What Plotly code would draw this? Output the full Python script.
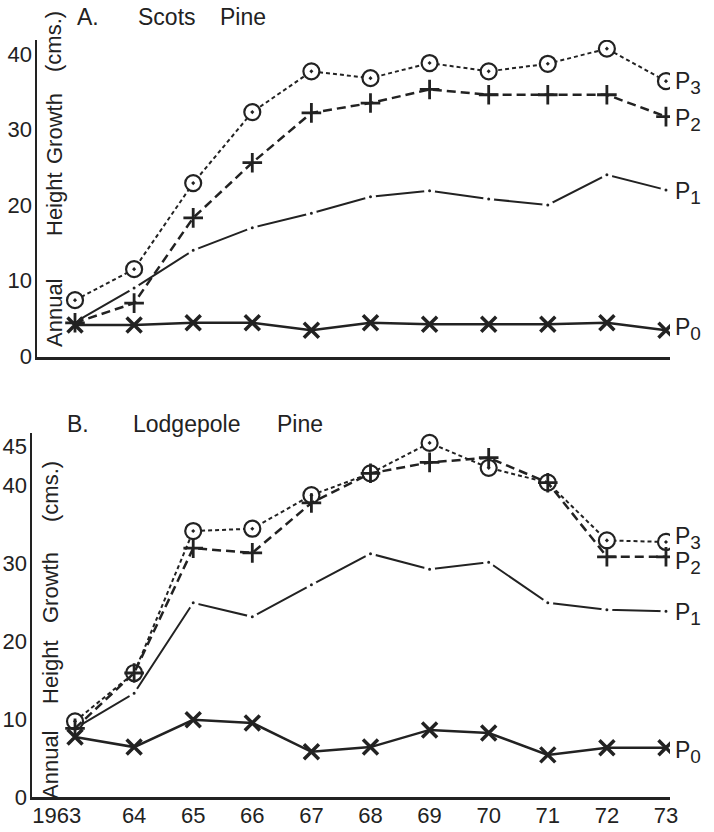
import plotly.graph_objects as go

# ---------------- data ----------------
years = [1963, 1964, 1965, 1966, 1967, 1968, 1969, 1970, 1971, 1972, 1973]
year_labels = ["1963", "64", "65", "66", "67", "68", "69", "70", "71", "72", "73"]

# A. Scots Pine
a_p0 = [4.1, 4.1, 4.4, 4.4, 3.4, 4.4, 4.2, 4.2, 4.2, 4.4, 3.4]
a_p1 = [4.5, 9.0, 14.0, 17.0, 18.9, 21.1, 21.9, 20.8, 20.0, 24.0, 22.0]
a_p2 = [4.4, 7.0, 18.3, 25.6, 32.2, 33.5, 35.3, 34.6, 34.6, 34.6, 31.7]
a_p3 = [7.4, 11.5, 22.9, 32.3, 37.7, 36.8, 38.8, 37.7, 38.7, 40.7, 36.4]

# B. Lodgepole Pine
b_p0 = [7.7, 6.4, 9.9, 9.5, 5.8, 6.4, 8.6, 8.2, 5.4, 6.3, 6.3]
b_p1 = [8.8, 13.3, 24.9, 23.1, 27.2, 31.2, 29.2, 30.1, 24.9, 24.0, 23.8]
b_p2 = [8.8, 15.9, 31.9, 31.3, 37.7, 41.5, 42.9, 43.5, 40.3, 30.8, 30.8]
b_p3 = [9.7, 15.9, 34.1, 34.4, 38.7, 41.5, 45.4, 42.2, 40.3, 32.9, 32.7]

a_yticks = [0, 10, 20, 30, 40]
b_yticks = [0, 10, 20, 30, 40, 45]

INK = "#222222"
FONT = "Liberation Sans, Arial, sans-serif"
W, H = 714, 832

fig = go.Figure()


def add_panel(xa, ya, p0, p1, p2, p3):
    # P1: solid line with small dots and gaps around them
    fig.add_trace(go.Scatter(
        x=years, y=p1, xaxis=xa, yaxis=ya, mode="lines+markers",
        line=dict(color=INK, width=2),
        marker=dict(symbol="circle", size=7, color=INK,
                    line=dict(color="white", width=4)),
        showlegend=False, hoverinfo="skip"))
    # P3: dotted with circle-dot markers
    fig.add_trace(go.Scatter(
        x=years, y=p3, xaxis=xa, yaxis=ya, mode="lines+markers",
        line=dict(color=INK, width=2, dash="4px,3px"),
        marker=dict(symbol="circle-dot", size=16, color="white",
                    line=dict(color=INK, width=2.2)),
        showlegend=False, hoverinfo="skip"))
    # P2: dashed with plus markers
    fig.add_trace(go.Scatter(
        x=years, y=p2, xaxis=xa, yaxis=ya, mode="lines+markers",
        line=dict(color=INK, width=2.5, dash="9px,5px"),
        marker=dict(symbol="cross-thin-open", size=14, color=INK,
                    line=dict(color=INK, width=2.8)),
        showlegend=False, hoverinfo="skip"))
    # P0: solid with x markers
    fig.add_trace(go.Scatter(
        x=years, y=p0, xaxis=xa, yaxis=ya, mode="lines+markers",
        line=dict(color=INK, width=2.5),
        marker=dict(symbol="x-thin-open", size=15, color=INK,
                    line=dict(color=INK, width=3.5)),
        showlegend=False, hoverinfo="skip"))


add_panel("x", "y", a_p0, a_p1, a_p2, a_p3)
add_panel("x2", "y2", b_p0, b_p1, b_p2, b_p3)

axis_common = dict(showgrid=False, zeroline=False, showline=True,
                   linecolor=INK, linewidth=2.5, ticks="",
                   automargin=False, fixedrange=True,
                   tickfont=dict(family=FONT, size=22, color=INK))

fig.update_layout(
    width=W, height=H, template="none",
    paper_bgcolor="white", plot_bgcolor="white",
    margin=dict(l=0, r=0, t=0, b=0, autoexpand=False),
    showlegend=False,
    xaxis=dict(domain=[37 / W, 670 / W], range=[1962.357, 1973.068],
               anchor="y", showticklabels=False, **axis_common),
    yaxis=dict(domain=[1 - 357 / H, 1 - 40 / H], range=[-0.13, 41.85],
               anchor="x", tickvals=a_yticks, ticklabelstandoff=-2,
               ticktext=[str(v) for v in a_yticks], **axis_common),
    xaxis2=dict(domain=[32 / W, 670 / W], range=[1962.272, 1973.068],
                anchor="y2", tickvals=years, ticklabelstandoff=-3,
                ticktext=[year_labels[0] + "\u00a0" * 6] + year_labels[1:],
                **axis_common),
    yaxis2=dict(domain=[1 - 797 / H, 1 - 433 / H], range=[0, 46.67],
                anchor="x2", tickvals=b_yticks, ticklabelstandoff=-2,
                ticktext=[str(v) for v in b_yticks], **axis_common),
)

ann = []


def text_px(t, px, py, size=23, angle=0):
    ann.append(dict(text=t, x=px / W, y=1 - py / H, xref="paper", yref="paper",
                    xanchor="center", yanchor="middle", showarrow=False,
                    textangle=angle, font=dict(family=FONT, size=size, color=INK)))


# panel titles
text_px("A.", 88, 17)
text_px("Scots", 167, 17)
text_px("Pine", 243, 17)
text_px("B.", 78, 424)
text_px("Lodgepole", 186, 424)
text_px("Pine", 300, 424)

# rotated y-axis titles (inside the plot area)
for word, py in [("Annual", 312), ("Height", 204), ("Growth", 128), ("(cms.)", 41)]:
    text_px(word, py=py, px=54, size=22, angle=-90)
for word, py in [("Annual", 765), ("Height", 672), ("Growth", 588), ("(cms.)", 492)]:
    text_px(word, py=py, px=50, size=22, angle=-90)


# series end labels
def end_label(name, xa, ya, yval, yshift=0):
    ann.append(dict(text="P<sub><span style='font-size:19px'>" + name + "</span></sub>",
                    x=years[-1], y=yval, xref=xa, yref=ya,
                    xanchor="left", yanchor="middle", xshift=7, yshift=yshift,
                    showarrow=False,
                    font=dict(family=FONT, size=23, color=INK)))


end_label("3", "x", "y", a_p3[-1], -2)
end_label("2", "x", "y", a_p2[-1], -3)
end_label("1", "x", "y", a_p1[-1], -3)
end_label("0", "x", "y", a_p0[-1], 1)
end_label("3", "x2", "y2", b_p3[-1], 4)
end_label("2", "x2", "y2", b_p2[-1], -6)
end_label("1", "x2", "y2", b_p1[-1], -3)
end_label("0", "x2", "y2", b_p0[-1], -4)

fig.update_layout(annotations=ann)

fig.write_html(
    "out.html",
    config={"displayModeBar": False, "staticPlot": True},
    post_script="document.body.style.margin='0';document.body.style.padding='0';"
                "document.body.style.overflow='hidden';",
)
